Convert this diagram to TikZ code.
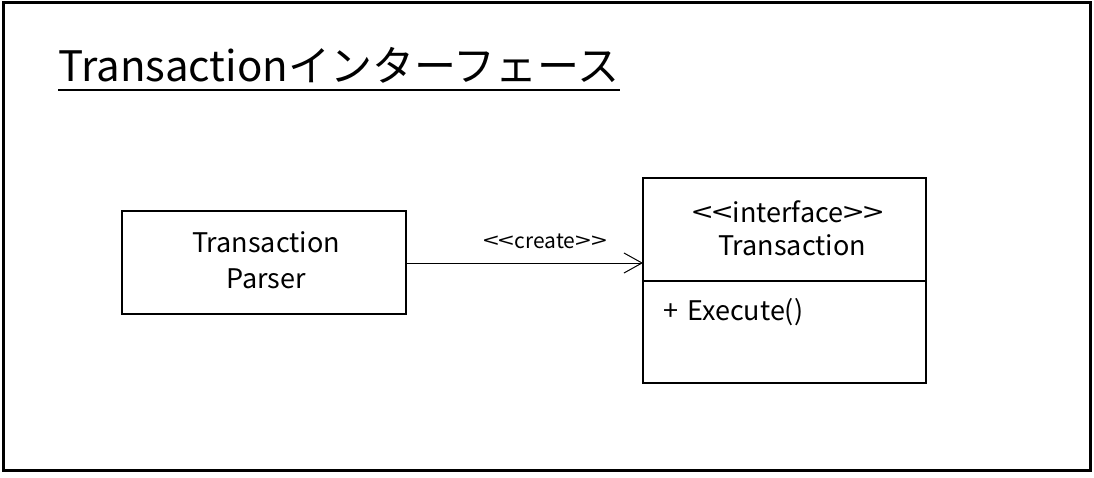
\documentclass[tikz,border=0pt]{standalone}
\usepackage{graphicx}
\usepackage{fontspec}
\setmainfont{Noto Sans CJK JP}[Ligatures=TeXOff]
\usetikzlibrary{arrows.meta}
\newcommand\wlt{\scalebox{1.35}[1]{<}}
\newcommand\wgt{\scalebox{1.35}[1]{>}}
\begin{document}
\begin{tikzpicture}[x=1pt,y=-1pt,
  boxline/.style={draw=black,line width=2.4pt},
  txt/.style={inner sep=0pt,anchor=base,font=\fontsize{27}{30}\selectfont},
  smalltxt/.style={inner sep=0pt,anchor=base,font=\fontsize{21}{24}\selectfont},
  createarrow/.style={line width=1pt,-{Straight Barb[length=18pt,width=20pt,line width=1pt]}}]
\useasboundingbox (0,0) rectangle (1094,478);
\draw[line width=3pt] (3,3) rectangle (1090,470);
% title
\node[inner sep=0pt,anchor=base west,font=\fontsize{42}{48}\selectfont] (title) at (58,82) {Transactionインターフェース};
\draw[line width=2pt] (title.base west |- 0,90) coordinate (ul1) -- (title.base east |- 0,90) coordinate (ul2);
% left box
\draw[boxline] (122,211) rectangle (406,314);
\coordinate (parserE) at (406,263);
\node[txt] (p1) at (266,253) {Transaction};
\node[txt] (p2) at (266,288) {Parser};
% right box
\draw[boxline] (643,178) rectangle (926,383);
\draw[boxline] (643,281) -- (926,281);
\coordinate (ifaceW) at (643,263);
\node[txt] (i1) at (788,223) {\wlt\wlt interface\wgt\wgt};
\node[txt] (i2) at (792,255) {Transaction};
\node[txt,anchor=base west] (m1) at (663,320) {+\hspace{9pt}Execute()};
% arrow
\draw[createarrow] (parserE) -- (ifaceW);
\node[smalltxt] (lbl) at (545,249) {\wlt\wlt create\wgt\wgt};
\end{tikzpicture}
\end{document}
